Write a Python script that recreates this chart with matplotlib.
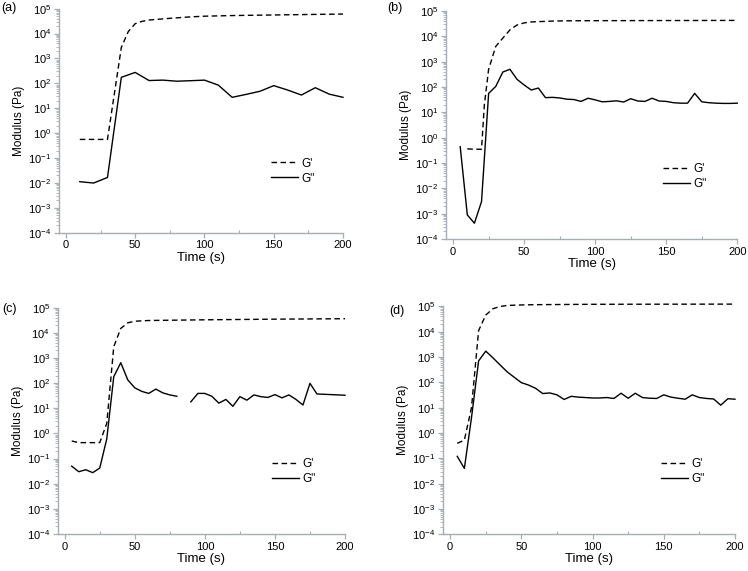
import numpy as np
import matplotlib
matplotlib.use("Agg")
import matplotlib.pyplot as plt
from matplotlib.ticker import LogLocator, MultipleLocator, NullFormatter

plt.rcParams['font.family'] = ['Liberation Sans', 'DejaVu Sans']
plt.rcParams['mathtext.fontset'] = 'custom'
plt.rcParams['mathtext.rm'] = 'Liberation Sans'

# ---------------- data ----------------
# panel (a)
a_t_g2 = [10, 20, 30, 40, 50, 60, 70, 80, 90, 100, 110, 120, 130, 140, 150, 160, 170, 180, 190, 200]
a_g2 = [0.0112, 0.0099, 0.0166, 175, 275, 130, 135, 122, 128, 135, 85, 27.5, 36, 48, 81, 54, 34, 67, 37, 27.5]
a_t_g1 = [10, 20, 30, 40, 45, 50, 55, 60, 70, 80, 90, 100, 120, 140, 160, 180, 200]
a_g1 = [0.56, 0.56, 0.56, 2800, 12000, 25000, 31000, 35000, 39000, 43000, 47000, 50000, 53000, 55000, 57000, 59000, 61000]

# panel (b)
b_t_g2 = list(range(5, 205, 5))
b_g2 = [0.44, 0.00089, 0.00042, 0.003, 56, 105, 390, 500, 200, 120,
        76, 91, 38, 39, 37, 33, 32, 27, 36, 31,
        26, 27, 28.5, 25.5, 34.5, 28, 27, 36, 28, 27,
        24, 23, 23, 56, 26, 24, 23, 22.5, 22.5, 23]
b_t_g1 = [10, 15, 20, 22, 25, 30, 35, 40, 45, 50, 55, 60, 70, 80, 100, 150, 200]
b_g1 = [0.36, 0.35, 0.35, 20, 500, 4000, 8500, 18000, 28000, 34000, 37000, 38000, 40000, 41000, 41500, 42000, 42500]

# panel (c)
c_t_g2 = list(range(5, 205, 5))
c_g2 = [0.05, 0.030, 0.036, 0.0275, 0.042, 0.6, 180, 650, 135, 65,
        47, 39, 58, 41, 34, 30, np.nan, 18, 39, 39,
        30, 16, 22.5, 12, 29, 21, 34, 29, 27, 35,
        26, 34, 22.5, 13.5, 98, 37, 36, 35, 34, 33]
c_t_g1 = [5, 10, 15, 20, 25, 30, 35, 40, 45, 50, 60, 80, 100, 150, 200]
c_g1 = [0.5, 0.43, 0.43, 0.43, 0.43, 2.5, 2800, 15000, 25000, 29000, 31000, 32000, 33000, 35000, 36500]

# panel (d)
d_t_g2 = list(range(5, 205, 5))
d_g2 = [0.12, 0.04, 4, 700, 1700, 930, 490, 260, 158, 97,
        78, 58, 36, 38, 32, 21, 28, 26, 25, 24,
        24, 25, 23, 37, 23.5, 37, 25, 23.5, 23, 32,
        26, 23.5, 21.5, 32, 25, 23, 22, 12.5, 22.5, 21.5]
d_t_g1 = [5, 10, 15, 20, 25, 30, 35, 40, 50, 60, 80, 100, 150, 200]
d_g1 = [0.39, 0.52, 10, 11000, 45000, 80000, 98000, 108000, 113000, 116000, 118000, 120000, 121000, 122000]

panel_labels = ['(a)', '(b)', '(c)', '(d)']
legend_labels = ["G'", 'G"']
xlabel = 'Time (s)'
ylabel = 'Modulus (Pa)'

# ---------------- layout ----------------
W, H = 748, 571
fig = plt.figure(figsize=(W / 100, H / 100), dpi=100)

# pixel boxes: left, right, top, bottom
boxes = [(59, 343, 8.7, 232.7), (446, 737.3, 11, 239),
         (57.7, 345, 307.7, 534), (443, 735, 306.3, 534.3)]
label_pos = [(1, 8), (387, 8), (2, 309), (389, 311)]

data = [(a_t_g1, a_g1, a_t_g2, a_g2), (b_t_g1, b_g1, b_t_g2, b_g2),
        (c_t_g1, c_g1, c_t_g2, c_g2), (d_t_g1, d_g1, d_t_g2, d_g2)]

spine_col = '#a7adb3'

for i, (box, d) in enumerate(zip(boxes, data)):
    l, r, t, b = box
    ax = fig.add_axes([l / W, 1 - b / H, (r - l) / W, (b - t) / H])
    t1, g1, t2, g2 = d
    ax.plot(t1, g1, color='black', lw=1.0, dashes=(4, 2.5), label=legend_labels[0], clip_on=False)
    ax.plot(t2, g2, color='black', lw=1.0, label=legend_labels[1], clip_on=False)
    ax.set_yscale('log')
    ax.set_ylim(1e-4, 1e5)
    ax.set_xlim(-5, 200)
    ax.yaxis.set_major_locator(LogLocator(base=10, numticks=20))
    ax.yaxis.set_minor_locator(LogLocator(base=10, subs=np.arange(2, 10), numticks=20))
    ax.yaxis.set_minor_formatter(NullFormatter())
    ax.xaxis.set_major_locator(MultipleLocator(50))
    ax.xaxis.set_minor_locator(MultipleLocator(25))
    for s in ['top', 'right']:
        ax.spines[s].set_visible(False)
    for s in ['left', 'bottom']:
        ax.spines[s].set_color(spine_col)
        ax.spines[s].set_linewidth(1.0)
    ax.tick_params(which='major', direction='out', length=3.5, width=0.9,
                   color=spine_col, labelsize=8, pad=2)
    ax.tick_params(axis='y', which='minor', direction='out', length=2, width=0.6, color=spine_col)
    ax.tick_params(axis='x', which='minor', direction='in', length=2, width=0.8, color=spine_col)
    ax.set_xlabel(xlabel, fontsize=9.5, labelpad=1)
    ax.set_ylabel(ylabel, fontsize=8.5, labelpad=2)
    ax.legend(loc='center left', bbox_to_anchor=(0.745, 0.275), frameon=False,
              fontsize=8.5, handlelength=2.3, handletextpad=0.3, labelspacing=0.25,
              borderpad=0, borderaxespad=0)
    lx, ly = label_pos[i]
    fig.text(lx / W, 1 - ly / H, panel_labels[i], fontsize=9, va='center', ha='left')

fig.savefig('out.png', dpi=100)
